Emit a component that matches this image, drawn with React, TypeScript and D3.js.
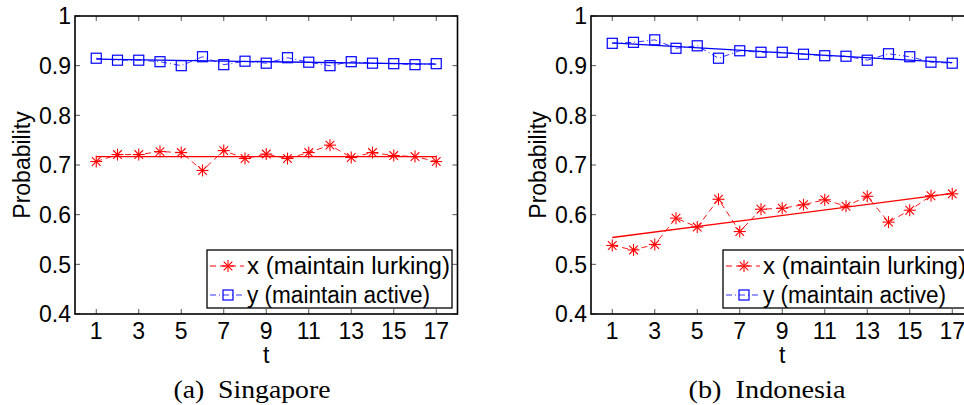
import React from "react";
import * as d3 from "d3";

const tValues = [1, 2, 3, 4, 5, 6, 7, 8, 9, 10, 11, 12, 13, 14, 15, 16, 17];
const xTicks = [1, 3, 5, 7, 9, 11, 13, 15, 17];
const yTicks = [0.4, 0.5, 0.6, 0.7, 0.8, 0.9, 1];
const yTickLabels = ["0.4", "0.5", "0.6", "0.7", "0.8", "0.9", "1"];

// Singapore
const sgLurking = [0.707, 0.721, 0.721, 0.727, 0.725, 0.689, 0.729, 0.713, 0.722, 0.713, 0.725, 0.740, 0.715, 0.725, 0.719, 0.717, 0.707];
const sgActive = [0.915, 0.911, 0.911, 0.908, 0.900, 0.918, 0.902, 0.909, 0.905, 0.916, 0.907, 0.900, 0.908, 0.905, 0.904, 0.902, 0.904];
const sgLurkingFit = [0.717, 0.717];
const sgActiveFit = [0.913, 0.903];

// Indonesia
const idLurking = [0.538, 0.529, 0.540, 0.593, 0.575, 0.631, 0.566, 0.611, 0.613, 0.620, 0.630, 0.617, 0.637, 0.585, 0.609, 0.638, 0.642];
const idActive = [0.945, 0.947, 0.952, 0.935, 0.940, 0.915, 0.930, 0.927, 0.927, 0.923, 0.920, 0.919, 0.911, 0.924, 0.918, 0.907, 0.905];
const idLurkingFit = [0.554, 0.643];
const idActiveFit = [0.946, 0.906];

const legendLabels = ["x (maintain lurking)", "y (maintain active)"];
const captions = ["(a)  Singapore", "(b)  Indonesia"];

const RED = "#ff0000";
const BLUE = "#0000ff";
const SANS = "Liberation Sans, Arial, Helvetica, sans-serif";
const SERIF = "Liberation Serif, Times New Roman, serif";
const FS = 23;

function Star({ x, y, r = 6 }: { x: number; y: number; r?: number }) {
  const d = r * 0.72;
  return (
    <g stroke={RED} strokeWidth={1.1}>
      <line x1={x - r} y1={y} x2={x + r} y2={y} />
      <line x1={x} y1={y - r} x2={x} y2={y + r} />
      <line x1={x - d} y1={y - d} x2={x + d} y2={y + d} />
      <line x1={x - d} y1={y + d} x2={x + d} y2={y - d} />
    </g>
  );
}

function Square({ x, y, s = 10 }: { x: number; y: number; s?: number }) {
  return <rect x={x - s / 2} y={y - s / 2} width={s} height={s} fill="none" stroke={BLUE} strokeWidth={1.2} />;
}

function Panel({
  left, lurking, active, lurkFit, actFit, caption, captionX,
}: {
  left: number; lurking: number[]; active: number[]; lurkFit: number[]; actFit: number[]; caption: string; captionX: number;
}) {
  const top = 16;
  const bottom = 314;
  const x = d3.scaleLinear().domain([0, 18]).range([left, left + 18 * 21.25]);
  const y = d3.scaleLinear().domain([0.4, 1]).range([bottom, top]);
  const right = x(18);
  const line = d3.line<number>().x((_, i) => x(tValues[i])).y((d) => y(d));
  const fitLine = d3.line<number>().x((_, i) => x(i === 0 ? tValues[0] : tValues[tValues.length - 1])).y((d) => y(d));
  const tick = 5;
  const legX = left + 132;
  const legY = 250;
  return (
    <g>
      {xTicks.map((t) => (
        <g key={"xt" + t} stroke="#555" strokeWidth={1}>
          <line x1={x(t)} x2={x(t)} y1={bottom} y2={bottom - tick} />
          <line x1={x(t)} x2={x(t)} y1={top} y2={top + tick} />
        </g>
      ))}
      {yTicks.map((v) => (
        <g key={"yt" + v} stroke="#555" strokeWidth={1}>
          <line x1={left} x2={left + tick} y1={y(v)} y2={y(v)} />
          <line x1={right} x2={right - tick} y1={y(v)} y2={y(v)} />
        </g>
      ))}
      <path d={fitLine(actFit) || ""} fill="none" stroke={BLUE} strokeWidth={1.3} />
      <path d={fitLine(lurkFit) || ""} fill="none" stroke={RED} strokeWidth={1.3} />
      <path d={line(active) || ""} fill="none" stroke={BLUE} strokeWidth={1} strokeDasharray="6 3 1 3" opacity={0.8} />
      <path d={line(lurking) || ""} fill="none" stroke={RED} strokeWidth={1} strokeDasharray="6 4" opacity={0.9} />
      {active.map((v, i) => <Square key={"s" + i} x={x(tValues[i])} y={y(v)} />)}
      {lurking.map((v, i) => <Star key={"st" + i} x={x(tValues[i])} y={y(v)} />)}
      <rect x={left} y={top} width={right - left} height={bottom - top} fill="none" stroke="#000" strokeWidth={1.6} />
      {xTicks.map((t) => (
        <text key={"xl" + t} x={x(t)} y={339} textAnchor="middle" fontFamily={SANS} fontSize={FS} fill="#000">{t}</text>
      ))}
      {yTicks.map((v, i) => (
        <text key={"yl" + v} x={left - 4} y={y(v)} dy="0.36em" textAnchor="end" fontFamily={SANS} fontSize={FS} fill="#000">{yTickLabels[i]}</text>
      ))}
      <text x={x(9)} y={363} textAnchor="middle" fontFamily={SANS} fontSize={FS} fill="#000">t</text>
      <text transform={`translate(${left - 53},${165}) rotate(-90)`} textAnchor="middle" dy="0.36em" fontFamily={SANS} fontSize={FS} fill="#000">Probability</text>
      <rect x={legX} y={legY} width={245} height={58} fill="#fff" stroke="#000" strokeWidth={1.3} />
      <line x1={legX + 3} x2={legX + 37} y1={legY + 16} y2={legY + 16} stroke={RED} strokeWidth={1} strokeDasharray="6 4" />
      <Star x={legX + 21} y={legY + 16} />
      <line x1={legX + 3} x2={legX + 37} y1={legY + 45} y2={legY + 45} stroke={BLUE} strokeWidth={1} strokeDasharray="6 3 1 3" opacity={0.8} />
      <Square x={legX + 21} y={legY + 45} />
      <text x={legX + 40} y={legY + 16} dy="0.36em" fontFamily={SANS} fontSize={FS} textLength={203} lengthAdjust="spacingAndGlyphs" fill="#000">{legendLabels[0]}</text>
      <text x={legX + 40} y={legY + 45} dy="0.36em" fontFamily={SANS} fontSize={FS} textLength={183} lengthAdjust="spacingAndGlyphs" fill="#000">{legendLabels[1]}</text>
      <text x={captionX} y={398} textAnchor="middle" fontFamily={SERIF} fontSize={25} textLength={157} lengthAdjust="spacingAndGlyphs" fill="#000" style={{ whiteSpace: "pre" }}>{caption}</text>
    </g>
  );
}

export default function App() {
  return (
    <svg width={964} height={405} style={{ position: "absolute", left: 0, top: 0, background: "#fff" }}>
      <rect x={0} y={0} width={964} height={405} fill="#fff" />
      <Panel left={75} lurking={sgLurking} active={sgActive} lurkFit={sgLurkingFit} actFit={sgActiveFit} caption={captions[0]} captionX={252} />
      <Panel left={591} lurking={idLurking} active={idActive} lurkFit={idLurkingFit} actFit={idActiveFit} caption={captions[1]} captionX={767} />
    </svg>
  );
}
